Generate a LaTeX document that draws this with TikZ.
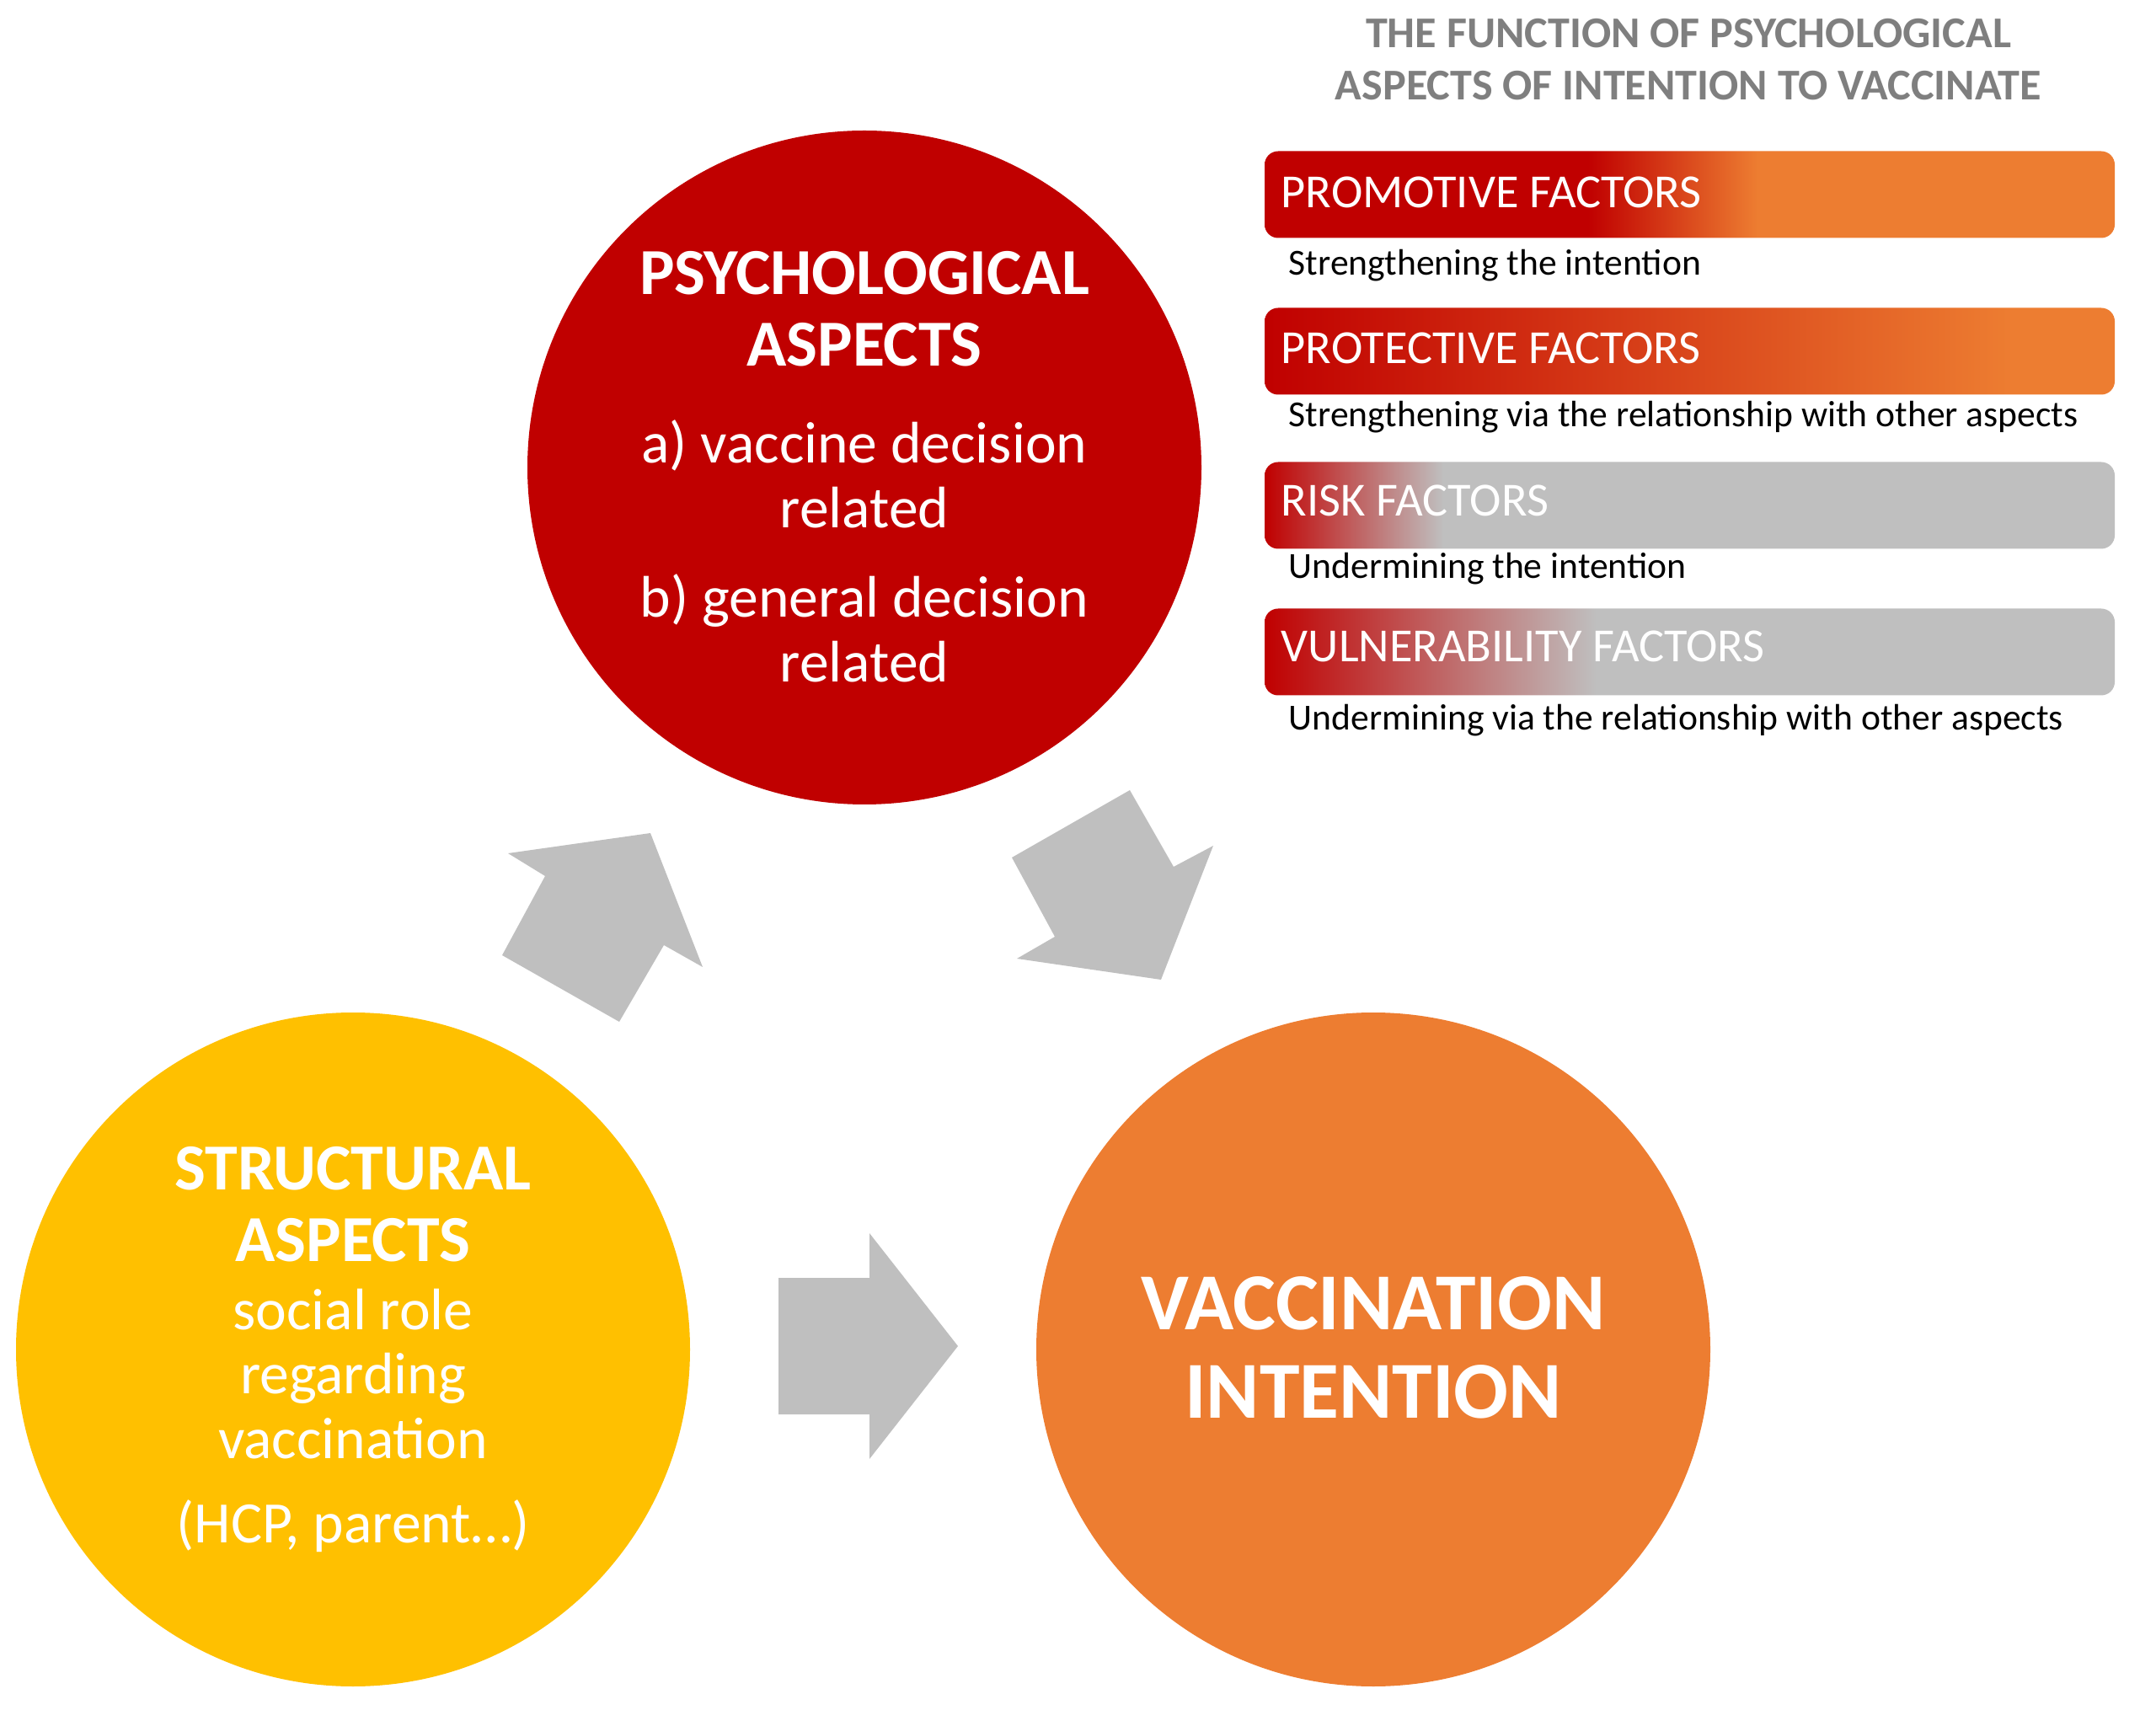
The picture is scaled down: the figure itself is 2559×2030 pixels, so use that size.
\documentclass[tikz,border=0pt]{standalone}
\usepackage{fontspec}
\setmainfont{Carlito}
\usepackage{tikz}
\definecolor{psyred}{HTML}{C00000}
\definecolor{vaccorange}{HTML}{ED7D31}
\definecolor{structyellow}{HTML}{FFC000}
\definecolor{arrowgray}{HTML}{BFBFBF}
\definecolor{titlegray}{HTML}{7F7F7F}

% the box shadings: the box covers 25bp..75bp
\pgfdeclarehorizontalshading{promoshade}{100bp}{color(0bp)=(psyred); color(44bp)=(psyred); color(54bp)=(vaccorange); color(100bp)=(vaccorange)}
\pgfdeclarehorizontalshading{protshade}{100bp}{color(0bp)=(psyred); color(25bp)=(psyred); color(69bp)=(vaccorange); color(100bp)=(vaccorange)}
\pgfdeclarehorizontalshading{riskshade}{100bp}{color(0bp)=(psyred); color(25bp)=(psyred); color(35.5bp)=(arrowgray); color(100bp)=(arrowgray)}
\pgfdeclarehorizontalshading{vulnshade}{100bp}{color(0bp)=(psyred); color(25bp)=(psyred); color(44.5bp)=(arrowgray); color(100bp)=(arrowgray)}

\tikzset{
  aspect/.style={circle, inner sep=0pt, minimum size=200pt},
  aspecttitle/.style={text=white, align=center, font=\fontsize{19.5}{21.25}\selectfont\bfseries},
  aspecttext/.style={text=white, align=center, font=\fontsize{17.4}{19.2}\selectfont},
  factorbox/.style={shade, rounded corners=4pt, minimum width=252.25pt, minimum height=25.75pt, inner sep=0pt},
  factorlabel/.style={anchor=base west, inner sep=0pt, text=white, font=\fontsize{14.1}{16}\selectfont},
  factordesc/.style={anchor=base west, inner sep=0pt, font=\fontsize{10.9}{13}\selectfont}
}

\begin{document}
\begin{tikzpicture}[x=0.25pt, y=-0.25pt]
\useasboundingbox (0,0) rectangle (2559,2030);

% aspects
\node[aspect, fill=psyred] (psych) at (1026,555) {};
\node[aspect, fill=structyellow] (struct) at (419,1602) {};
\node[aspect, fill=vaccorange] (intent) at (1630,1602) {};

\node[aspecttitle] (psychtitle) at (1026,367) {PSYCHOLOGICAL\\ASPECTS};
\node[aspecttext] (psycha) at (1026,563) {a) vaccine decision\\related};
\node[aspecttext] (psychb) at (1026,746) {b) general decision\\related};

\node[aspecttitle] (structtitle) at (419,1430) {STRUCTURAL\\ASPECTS};
\node[aspecttext] (structrole) at (419,1631) {social role\\regarding\\vaccination};
\node[aspecttext] (structwho) at (419,1812) {(HCP, parent…)};

\node[text=white, align=center, font=\fontsize{24}{26.25}\selectfont\bfseries] (intenttitle) at (1630,1600) {VACCINATION\\INTENTION};

% block arrows
\fill[arrowgray] (603,1013) -- (772,989) -- (834,1148) -- (788,1122) -- (735,1213) -- (596,1134) -- (647,1040) -- cycle;
\fill[arrowgray] (1341,938) -- (1393,1029) -- (1440,1004) -- (1378,1163) -- (1207,1138) -- (1252,1112) -- (1201,1018) -- cycle;
\fill[arrowgray] (924,1517) -- (1032,1517) -- (1032,1464) -- (1137,1598) -- (1032,1732) -- (1032,1679) -- (924,1679) -- cycle;

% factors
\node[text=titlegray, align=center, font=\fontsize{13.05}{15.5}\selectfont\bfseries] (factortitle) at (2004,71) {THE FUNCTION OF PSYCHOLOGICAL\\ASPECTS OF INTENTION TO VACCINATE};

\node[factorbox, shading=promoshade] (promo) at (2005.5,231) {};
\node[factorbox, shading=protshade] (prot) at (2005.5,417) {};
\node[factorbox, shading=riskshade] (risk) at (2005.5,600) {};
\node[factorbox, shading=vulnshade] (vuln) at (2005.5,774) {};

\node[factorlabel] (promolbl) at (1520,247) {PROMOTIVE FACTORS};
\node[factorlabel] (protlbl) at (1520,432) {PROTECTIVE FACTORS};
\node[factorlabel] (risklbl) at (1520,613) {RISK FACTORS};
\node[factorlabel] (vulnlbl) at (1520,786) {VULNERABILITY FACTORS};

\node[factordesc] (promodesc) at (1529,327) {Strengthening the intention};
\node[factordesc] (protdesc) at (1529,507) {Strengthening via the relationship with other aspects};
\node[factordesc] (riskdesc) at (1529,687) {Undermining the intention};
\node[factordesc] (vulndesc) at (1529,867) {Undermining via the relationship with other aspects};
\end{tikzpicture}
\end{document}
